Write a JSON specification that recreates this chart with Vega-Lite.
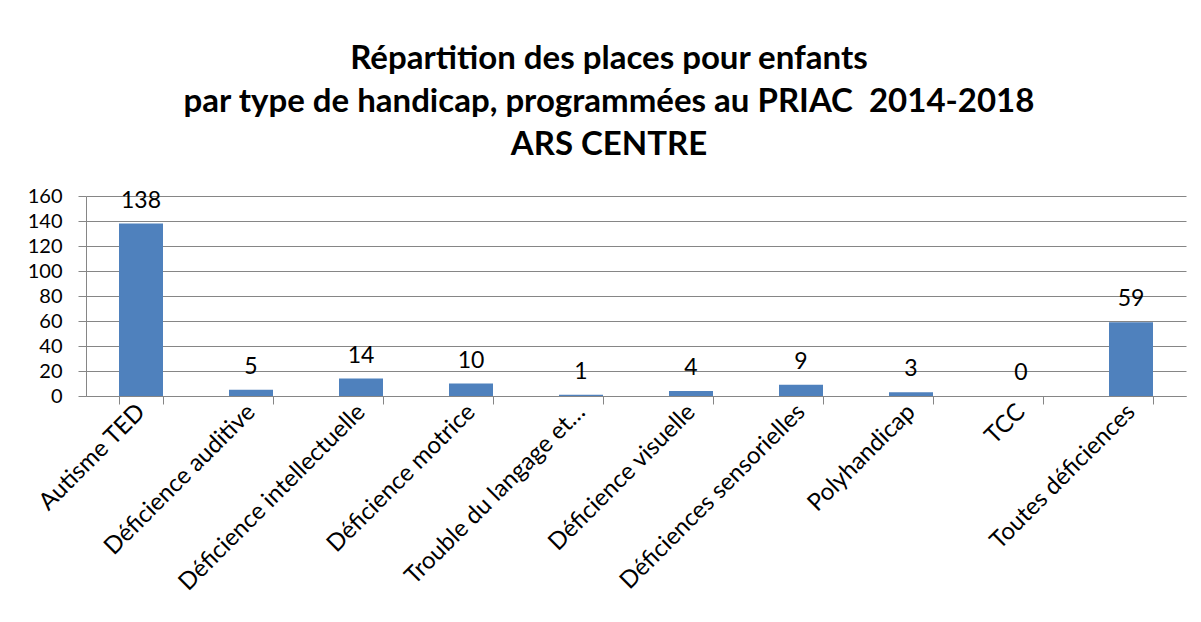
{
  "$schema": "https://vega.github.io/schema/vega-lite/v6.json",
  "width": 1100,
  "height": 200,
  "autosize": {"type": "none"},
  "padding": {"left": 86, "top": 196, "right": 15, "bottom": 226},
  "background": "white",
  "title": {
    "text": ["Répartition des places pour enfants", "par type de handicap, programmées au PRIAC\u00a0 2014-2018", "ARS CENTRE"],
    "font": "Lato",
    "fontSize": 33,
    "fontWeight": "bold",
    "color": "black",
    "lineHeight": 43,
    "anchor": "middle",
    "frame": "group",
    "dx": -27,
    "offset": 24
  },
  "data": {
    "values": [
      {"type": "Autisme TED", "places": 138},
      {"type": "Déficience auditive", "places": 5},
      {"type": "Déficience intellectuelle", "places": 14},
      {"type": "Déficience motrice", "places": 10},
      {"type": "Trouble du langage et…", "places": 1},
      {"type": "Déficience visuelle", "places": 4},
      {"type": "Déficiences sensorielles", "places": 9},
      {"type": "Polyhandicap", "places": 3},
      {"type": "TCC", "places": 0},
      {"type": "Toutes déficiences", "places": 59}
    ]
  },
  "encoding": {
    "x": {
      "field": "type",
      "type": "nominal",
      "sort": null,
      "scale": {"paddingInner": 0.6, "paddingOuter": 0.3},
      "axis": {
        "title": null,
        "labelAngle": -45,
        "labelAlign": "right",
        "labelBaseline": "middle",
        "labelFont": "Lato",
        "labelFontSize": 24,
        "labelColor": "black",
        "labelPadding": 4,
        "tickBand": "extent",
        "tickSize": 8,
        "tickColor": "#868686",
        "domainColor": "#868686",
        "labelOverlap": false,
        "labelLimit": 400
      }
    },
    "y": {
      "field": "places",
      "type": "quantitative",
      "scale": {"domain": [0, 160], "nice": false},
      "axis": {
        "title": null,
        "values": [0, 20, 40, 60, 80, 100, 120, 140, 160],
        "labelFont": "Lato",
        "labelFontSize": 20,
        "labelColor": "black",
        "labelPadding": 16,
        "tickSize": 8,
        "tickColor": "#868686",
        "domainColor": "#868686",
        "gridColor": "#868686",
        "gridOpacity": 1,
        "grid": true
      }
    }
  },
  "layer": [
    {"mark": {"type": "bar", "color": "#4F81BD"}},
    {
      "mark": {"type": "text", "font": "Lato", "fontSize": 23, "color": "black", "baseline": "alphabetic", "dy": -16},
      "encoding": {"text": {"field": "places", "type": "quantitative"}}
    }
  ],
  "config": {"view": {"stroke": null}}
}
